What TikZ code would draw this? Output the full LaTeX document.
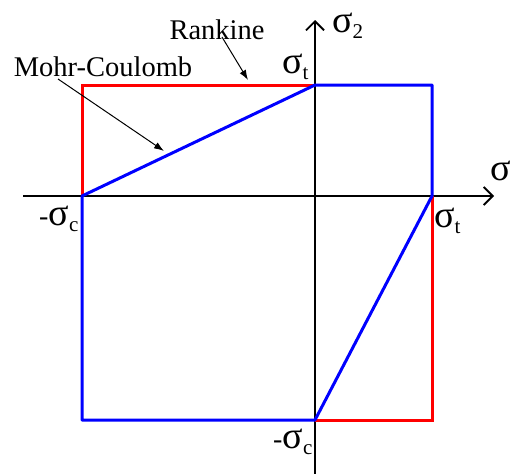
\documentclass[tikz,border=0pt]{standalone}
\usepackage{fontspec}
\setmainfont{Liberation Serif}
\usetikzlibrary{arrows.meta}
\tikzset{
  axis/.style={line width=1.8pt, -{Straight Barb[length=9pt,width=18pt,line width=1.8pt]}},
  rank/.style={draw=red, line width=3pt, line join=miter},
  mc/.style={draw=blue, line width=3pt, line join=round},
  pointer/.style={line width=1pt, -{Latex[length=10pt,width=7pt]}},
  lbl/.style={font=\fontsize{28.5}{30}\selectfont, inner sep=0pt},
  sgl/.style={inner sep=0pt, anchor=base west},
}
\newcommand{\sg}[1]{{\fontsize{38}{40}\selectfont σ}\raisebox{-6pt}{\fontsize{21}{22}\selectfont #1}}
\newcommand{\mns}{{\fontsize{28}{30}\selectfont -}}
\begin{document}
\begin{tikzpicture}[x=1pt,y=-1pt]
\useasboundingbox (0,0) rectangle (512,474);
% points
\coordinate (O) at (315,196);
\coordinate (L) at (82,196);
\coordinate (R) at (432,196);
\coordinate (T) at (315,85);
\coordinate (B) at (315,420);
\coordinate (TL) at (82,85);
\coordinate (TR) at (432,85);
\coordinate (BL) at (82,420);
\coordinate (BR) at (432,420);
\coordinate (xs) at (23,196);
\coordinate (xe) at (494,196);
\coordinate (ys) at (315,474);
\coordinate (ye) at (315,20);
% axes
\draw[axis] (xs) -- (xe);
\draw[axis] (ys) -- (ye);
% Rankine (red)
\draw[rank] (L) -- (TL) -- (T);
\draw[rank] (R) -- (BR) -- (B);
% Mohr-Coulomb (blue)
\draw[mc] (L) -- (T) -- (TR) -- (R) -- (B) -- (BL) -- cycle;
% labels
\node[sgl] (s2) at (332,32) {\sg{2}};
\node[sgl] (s1) at (490,180) {\sg{1}};
\node[sgl] (st1) at (282,73) {\sg{t}};
\node[sgl] (st2) at (434,227) {\sg{t}};
\node[sgl] (sc1) at (39,225) {\mns\sg{c}};
\node[sgl] (sc2) at (273,448) {\mns\sg{c}};
\node[lbl] (rk) at (217,30) {Rankine};
\node[lbl] (moc) at (103,67) {Mohr-Coulomb};
\coordinate (rkt) at (248,80);
\coordinate (mct) at (164,151);
\draw[pointer] (222,37) -- (rkt);
\draw[pointer] (58,79) -- (mct);
\end{tikzpicture}
\end{document}
